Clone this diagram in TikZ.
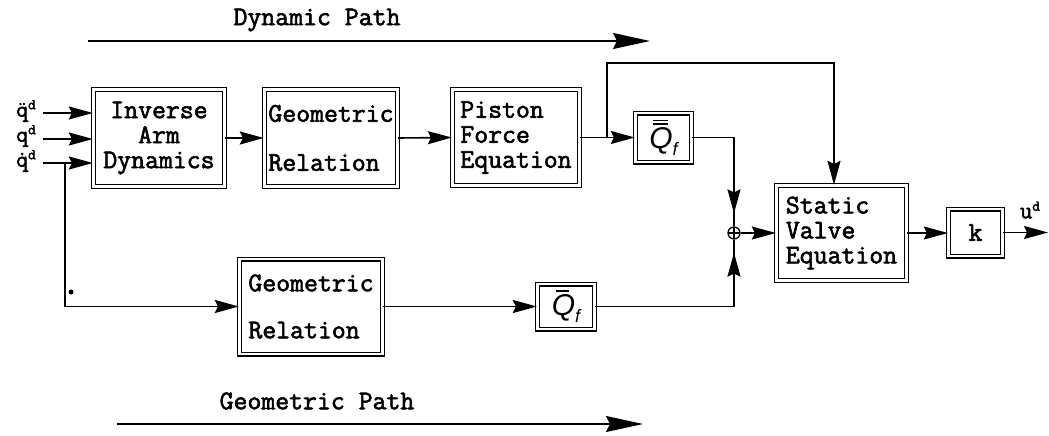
\documentclass[tikz,border=0pt]{standalone}
\usepackage{fontspec}
\setsansfont{Liberation Sans}
\setmonofont{Latin Modern Mono}[FakeBold=2.2]
\usetikzlibrary{arrows.meta,decorations.markings}
\newcommand\QbarOne{\setbox0\hbox{\sffamily\itshape Q}\vbox{\offinterlineskip\hbox to\wd0{\hskip4pt\rule{13pt}{1.7pt}\hfil}\kern2.5pt\box0}}
\newcommand\QbarTwo{\setbox0\hbox{\sffamily\itshape Q}\vbox{\offinterlineskip\hbox to\wd0{\hskip4pt\rule{15pt}{1.6pt}\hfil}\kern2pt\hbox to\wd0{\hskip4pt\rule{15pt}{1.6pt}\hfil}\kern2.5pt\box0}}
\newcommand\subf{\raisebox{-7pt}{\fontsize{18}{18}\selectfont\sffamily\itshape f}}
\newcommand\supd{\raisebox{7.5pt}{\fontsize{15}{15}\selectfont\ttfamily d}}
\begin{document}
\begin{tikzpicture}[x=1pt,y=-1pt,
  txt/.style={font=\ttfamily\fontsize{27}{25}\selectfont},
  blk/.style={draw,double,double distance=2.4pt,line width=1.3pt,inner sep=0pt,txt},
  qf/.style={font=\fontsize{30}{30}\selectfont},
  con/.style={line width=1.6pt},
  arr/.style={con,-{Stealth[length=24pt,width=13pt,inset=3pt]}},
  patharr/.style={line width=1.6pt,-{Stealth[length=37pt,width=16pt,inset=4pt]}},
  markarr/.style={con,postaction={decorate},decoration={markings,
     mark=at position -13pt with {\arrow{Stealth[length=24pt,width=13pt,inset=3pt]}}}},
  lbl/.style={font=\ttfamily\fontsize{23}{23}\selectfont, inner sep=0pt}
]
\useasboundingbox (0,0) rectangle (1049,436);

% path arrows
\node[txt] (dyn) at (317,20) {Dynamic Path};
\coordinate (d1) at (88,41);
\coordinate (d2) at (650,41);
\draw[patharr] (d1) -- (d2);
\node[txt] (geo) at (317,401) {Geometric Path};
\coordinate (g1) at (117,424);
\coordinate (g2) at (643,424);
\draw[patharr] (g1) -- (g2);

% blocks
\node[blk,align=center,minimum width=131pt,minimum height=97pt] (iad) at (159,138) {Inverse\\Arm\\Dynamics};
\node[blk,align=left,minimum width=133pt,minimum height=97pt] (gr1) at (331,138) {Geometric\\[24pt]Relation};
\node[blk,align=left,minimum width=127pt,minimum height=96pt] (pfe) at (516,137.5) {Piston\\Force\\Equation};
\node[blk,qf,minimum width=56pt,minimum height=49pt] (qf1) at (663.5,137.5) {\QbarTwo\subf};
\node[blk,align=left,minimum width=130pt,minimum height=95pt] (sve) at (841.5,233) {Static\\Valve\\Equation};
\node[blk,minimum width=54pt,minimum height=47pt] (k) at (975.5,232.5) {k};
\node[blk,align=left,minimum width=143pt,minimum height=95pt] (gr2) at (311,306.5) {Geometric\\[22pt]Relation};
\node[blk,qf,minimum width=57pt,minimum height=45pt] (qf2) at (566,306.5) {\QbarOne\subf};
\node[circle,draw,line width=1.3pt,minimum size=12pt,inner sep=0pt,
  path picture={\draw[line width=1.2pt] (path picture bounding box.north) -- (path picture bounding box.south)
  (path picture bounding box.west) -- (path picture bounding box.east);}] (sum) at (734,233) {};

% inputs
\node[lbl,anchor=east] (l1) at (36,111) {\"q\supd};
\node[lbl,anchor=east] (l2) at (36,136) {q\supd};
\node[lbl,anchor=east] (l3) at (36,161) {\.q\supd};
\coordinate (i1) at (43,113);
\coordinate (i2) at (43,139);
\coordinate (i3) at (43,163);
\draw[arr] (i1) -- (i1 -| iad.west);
\draw[arr] (i2) -- (i2 -| iad.west);
\draw[arr] (i3) -- (i3 -| iad.west);
\coordinate (j) at (65,163);
\draw[arr] (j) |- (gr2.west);
\node[circle,fill,inner sep=0pt,minimum size=5pt] (dot) at (71,292) {};

% dynamic chain
\draw[arr] (iad.east) -- (gr1.west);
\draw[arr] (gr1.east) -- (pfe.west);
\draw[arr] (pfe.east) -- (qf1.west);
\coordinate (br) at (607,137.5);
\coordinate (tp) at (834,63);
\draw[arr] (br) |- (tp) -- (tp |- sve.north);
\draw[markarr] (qf1.east) -| (sum.north);

% geometric chain
\draw[arr] (gr2.east) -- (gr2.east -| qf2.west);
\draw[markarr] (qf2.east) -| (sum.south);

% output
\draw[arr] (sum.east) -- (sve.west);
\draw[arr] (sve.east) -- (sve.east -| k.west);
\coordinate (out) at (1048,232.5);
\draw[arr] (k.east) -- (out);
\node[lbl,font=\ttfamily\fontsize{24}{24}\selectfont] (ud) at (1030,210) {u\supd};
\end{tikzpicture}
\end{document}
